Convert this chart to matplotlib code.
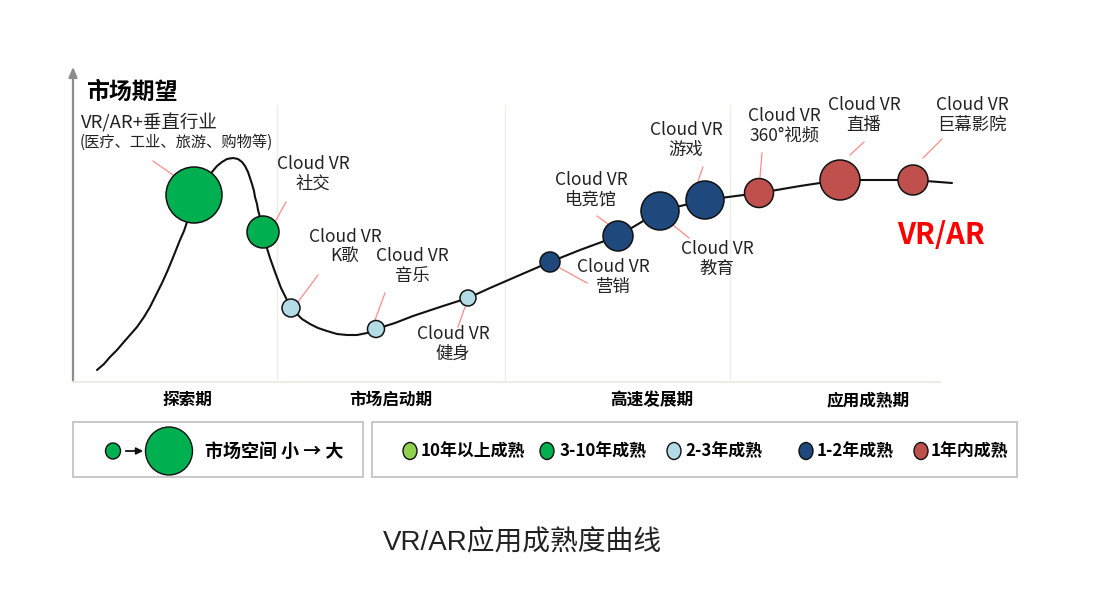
import matplotlib
matplotlib.use('Agg')
import matplotlib.pyplot as plt
from matplotlib.patches import Circle, Ellipse, Rectangle

plt.rcParams['font.family'] = ['Noto Sans CJK SC', 'DejaVu Sans']

# curve through the chart (pixel units, y down)
curve_x = [97, 104, 110, 117, 123, 130, 137, 144, 150, 156, 162, 167, 172, 176, 180, 184,
           187, 194, 200, 206, 212, 217, 222, 227, 233, 238, 242, 245, 248, 250, 252, 254,
           255, 257, 258, 261, 263, 266, 270, 275, 281, 286, 291, 296, 302, 310, 318, 327,
           337, 347, 357, 367, 376, 395, 413, 440, 468, 490, 513, 550,
           580, 618, 660, 705, 759, 800, 840, 880, 913, 952]
curve_y = [370, 364, 357, 350, 343, 335, 327, 317, 307, 295, 283, 272, 260, 250, 240, 231,
           222, 205, 190, 180, 172, 166, 162, 159, 158, 159, 162, 166, 172, 178, 184, 191,
           197, 204, 210, 221, 232, 245, 258, 272, 288, 298, 308, 313, 319, 324, 328, 331,
           334, 335, 335, 333, 329, 323, 316, 307, 298, 288, 278, 262,
           250, 236, 211, 200, 193, 186, 180, 180, 180, 183]

# bubbles: position, radius, maturity stage
bubble_x = [194, 263, 291, 376, 468, 550, 618, 660, 705, 759, 840, 913]
bubble_y = [195, 232, 308, 329, 298, 262, 236, 211, 200, 193, 180, 180]
bubble_r = [28, 16, 9, 8.5, 8, 10, 15, 19, 19, 14.5, 20, 15]
bubble_stage = [1, 1, 2, 2, 2, 3, 3, 3, 3, 4, 4, 4]

stage_names = ['10年以上成熟', '3-10年成熟', '2-3年成熟', '1-2年成熟', '1年内成熟']
stage_colors = ['#92D050', '#00B050', '#B4DCE6', '#1F497D', '#C0504D']

# application labels
app_names = ['社交', 'K歌', '音乐', '健身', '营销', '电竞馆', '游戏', '教育',
             '360°视频', '直播', '巨幕影院']
app_x = [313, 345, 412, 453, 613, 591, 686, 717, 784, 864, 972]
app_y = [174, 247, 266, 344, 277, 190, 140, 259, 126, 115, 115]
leaders = [(286, 202, 275, 222), (318, 275, 298, 302), (385, 293, 375, 320),
           (465, 307, 458, 327), (560, 268, 587, 283), (597, 216, 612, 227),
           (703, 167, 698, 181), (673, 225, 689, 238), (762, 153, 760, 177),
           (864, 142, 850, 155), (942, 139, 923, 158)]
top_leader = (153, 161, 173, 175)

phases = ['探索期', '市场启动期', '高速发展期', '应用成熟期']
phase_x = [187, 391, 652, 868]
separators = [277, 505, 730]

legend_x = [410, 547, 674, 806, 921]
legend_text_x = [421, 560, 685, 817, 931]

fig = plt.figure(figsize=(11.01, 5.90), dpi=100)
ax = fig.add_axes([0, 0, 1, 1])
ax.set_xlim(0, 1101)
ax.set_ylim(590, 0)
ax.set_aspect('equal')
ax.axis('off')

# axes frame
ax.plot([73, 940], [382, 382], color='#ECECE4', lw=1.5, zorder=1)
for sx in separators:
    ax.plot([sx, sx], [105, 382], color='#EEEEE8', lw=1, zorder=1)
ax.annotate('', xy=(73, 64), xytext=(73, 383),
            arrowprops=dict(arrowstyle='-|>,head_length=0.6,head_width=0.25',
                            color='#8C8C8C', lw=1.6))
ax.text(86, 92, '市场期望', fontsize=16.5, fontweight='bold', va='center', ha='left')

# curve
ax.plot(curve_x, curve_y, color='#111111', lw=1.5, solid_joinstyle='round',
        solid_capstyle='round', zorder=2, antialiased=True)

# leader lines
for x0, y0, x1, y1 in leaders + [top_leader]:
    ax.plot([x0, x1], [y0, y1], color='#FF8A8A', lw=0.9, zorder=1.5)

# bubbles
for x, y, r, s in zip(bubble_x, bubble_y, bubble_r, bubble_stage):
    ax.add_patch(Circle((x, y), r, facecolor=stage_colors[s], edgecolor='#111111',
                        lw=1.1, zorder=3))

# labels
ax.text(81, 123, 'VR/AR+垂直行业', fontsize=13.3, va='center', ha='left', color='#222222')
ax.text(80, 142, '(医疗、工业、旅游、购物等)', fontsize=11, va='center', ha='left',
        color='#222222')
for name, x, y in zip(app_names, app_x, app_y):
    ax.text(x, y, 'Cloud VR\n' + name, fontsize=12.5, ha='center', va='center',
            linespacing=1.12, color='#222222')
ax.text(941, 235, 'VR/AR', fontsize=21, fontweight='bold', color='#FF0000',
        ha='center', va='center')

# phases
for name, x in zip(phases, phase_x):
    ax.text(x, 400, name, fontsize=12, fontweight='bold', ha='center', va='center')

# legend boxes
ax.add_patch(Rectangle((73, 422), 290, 55, facecolor='white', edgecolor='#C4C4C4', lw=1.3))
ax.add_patch(Rectangle((372, 422), 645, 55, facecolor='white', edgecolor='#C4C4C4', lw=1.3))
ax.add_patch(Ellipse((113, 451), 15, 16, facecolor=stage_colors[1], edgecolor='#111111',
                     lw=1, zorder=3))
ax.annotate('', xy=(146, 451), xytext=(123, 451),
            arrowprops=dict(arrowstyle='-|>,head_length=0.4,head_width=0.2',
                            color='#111111', lw=1.3))
ax.add_patch(Ellipse((169, 451), 47, 48, facecolor=stage_colors[1], edgecolor='#111111',
                     lw=1, zorder=3))
ax.text(205, 451, '市场空间 小 → 大', fontsize=13, fontweight='bold', ha='left', va='center')

for name, col, cx, tx in zip(stage_names, stage_colors, legend_x, legend_text_x):
    ax.add_patch(Ellipse((cx, 451), 14, 17, facecolor=col, edgecolor='#111111', lw=1, zorder=3))
    ax.text(tx, 451, name, fontsize=12.2, fontweight='bold', ha='left', va='center')

# title
ax.text(522, 543, 'VR/AR应用成熟度曲线', fontsize=20, ha='center', va='center',
        family=['Liberation Sans', 'Noto Sans CJK SC'], color='#222222')

fig.savefig('out.png', dpi=100)
